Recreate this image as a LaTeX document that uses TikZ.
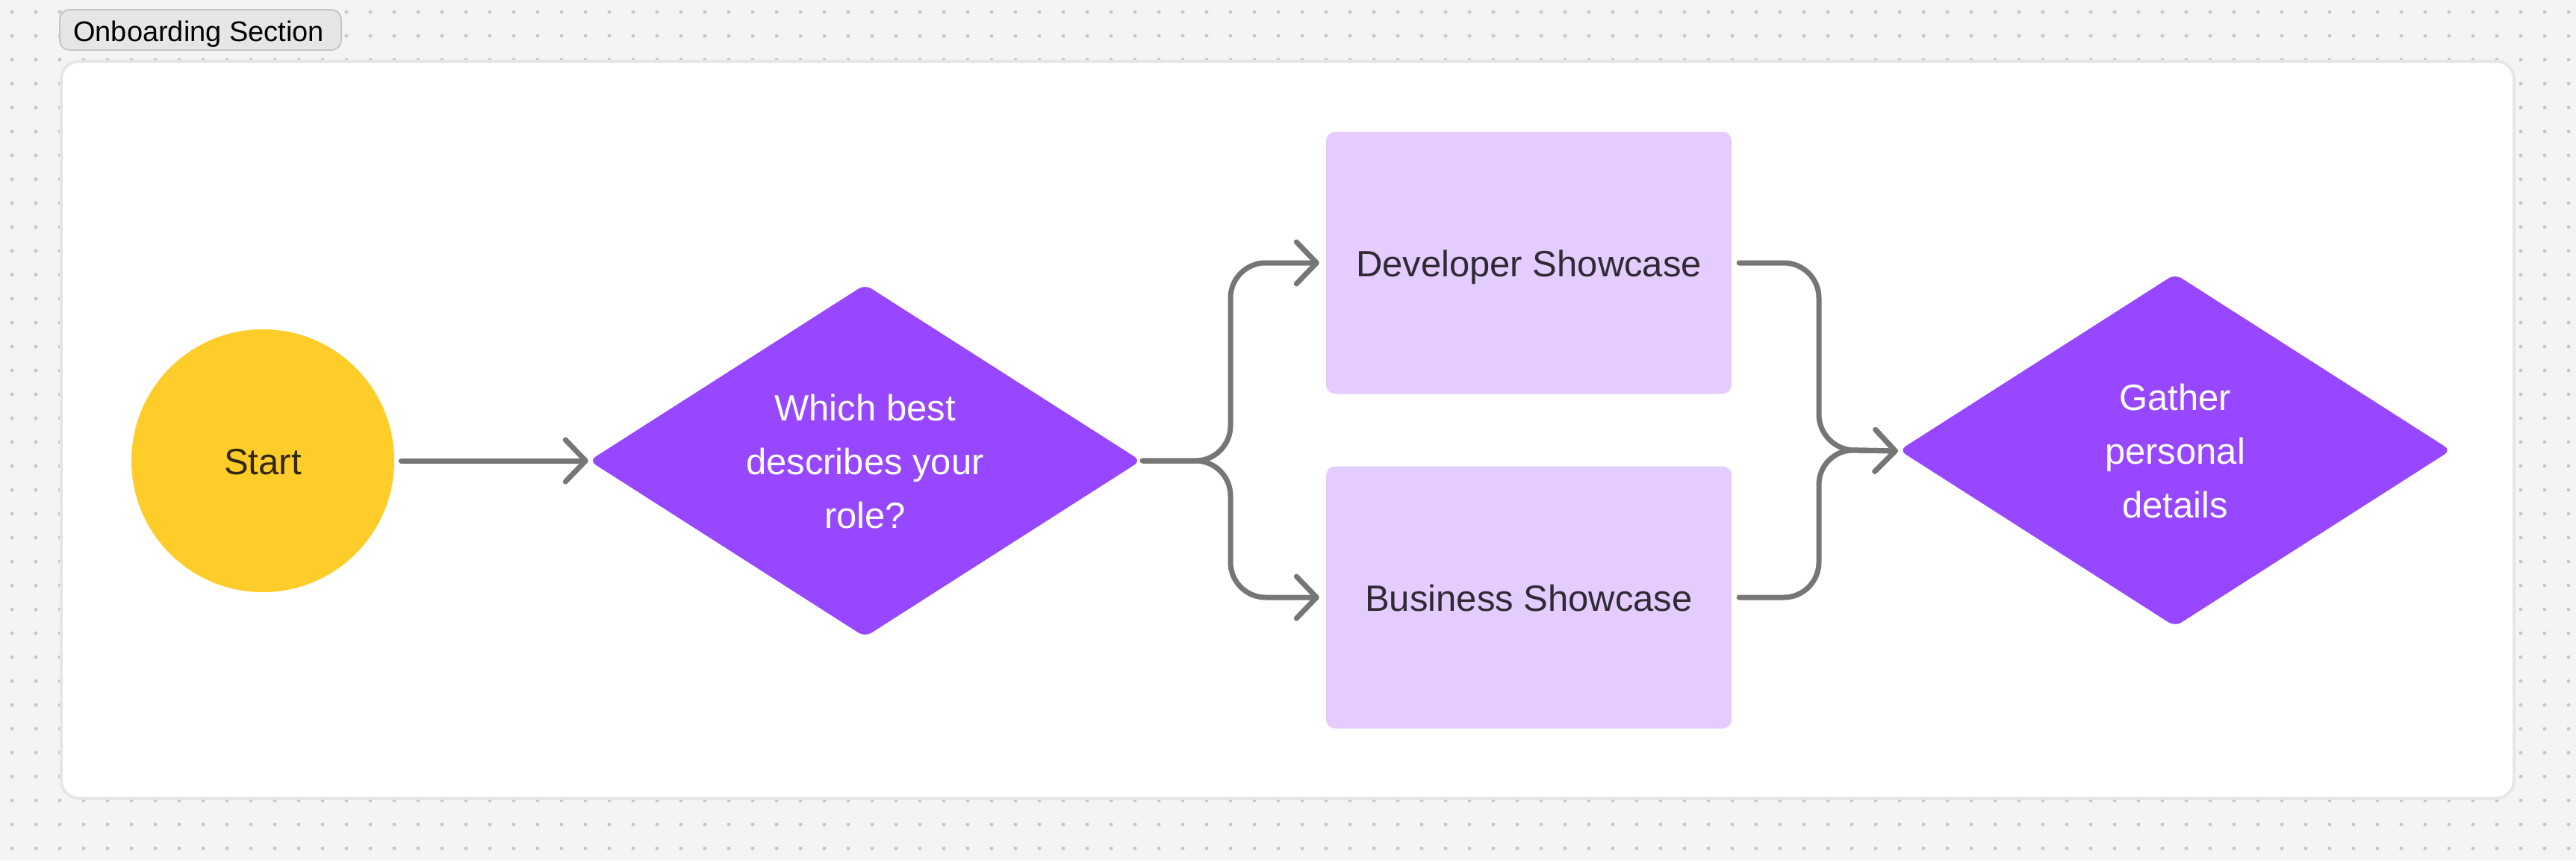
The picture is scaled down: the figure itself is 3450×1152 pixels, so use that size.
\documentclass[tikz,border=0pt]{standalone}
\usepackage{fontspec}
\setmainfont{Liberation Sans}
\usetikzlibrary{shapes.geometric,arrows.meta}
\definecolor{bgcol}{HTML}{F4F4F4}
\definecolor{dotcol}{HTML}{C8C8C8}
\definecolor{panelborder}{HTML}{E6E6E6}
\definecolor{lblfill}{HTML}{E6E6E6}
\definecolor{lblborder}{HTML}{C6C6C6}
\definecolor{startfill}{HTML}{FFCD29}
\definecolor{starttext}{HTML}{33290D}
\definecolor{decfill}{HTML}{9747FF}
\definecolor{boxfill}{HTML}{E4CCFF}
\definecolor{boxtext}{HTML}{2F2A33}
\definecolor{conncol}{HTML}{767676}
\tikzset{
  bigtext/.style={font=\fontsize{49}{72}\selectfont},
  startnode/.style={circle, fill=startfill, draw=none, minimum size=352pt, inner sep=0pt, text=starttext, bigtext, text height=36pt, text depth=0pt},
  decision/.style={diamond, fill=decfill, draw=none, minimum width=739pt, minimum height=472pt, inner sep=0pt, rounded corners=10pt},
  dectext/.style={text=white, align=center, inner sep=0pt, bigtext},
  showbox/.style={rectangle, fill=boxfill, draw=none, minimum width=543pt, minimum height=351pt, inner sep=0pt, rounded corners=12pt, text=boxtext, bigtext, text height=36pt, text depth=0pt},
  conn/.style={draw=conncol, line width=7pt, line cap=round, line join=round, rounded corners=47pt,
    -{Straight Barb[length=27pt, width=56pt, line cap=round, line join=round]}},
  sectionlabel/.style={rectangle, fill=lblfill, draw=lblborder, line width=2pt, rounded corners=13pt,
    minimum width=377pt, minimum height=54pt, inner sep=0pt}
}
\begin{document}
\begin{tikzpicture}[x=1pt,y=-1pt]
\useasboundingbox (0,0) rectangle (3450,1152);
\fill[bgcol] (0,0) rectangle (3450,1152);
% dot grid
\foreach \i in {0,...,107} {
  \foreach \j in {0,...,35} {
    \fill[dotcol] ({16+32*\i},{16+32*\j}) circle (2.5pt);
  }
}
% panel
\draw[draw=panelborder, line width=4pt, fill=white, rounded corners=24pt] (82,82) rectangle (3367,1069);
% section label
\node[sectionlabel] (lbl) at (268.5,40) {};
\node[anchor=base west, font=\fontsize{38}{42}\selectfont, inner sep=0pt, text=black] (lbltext) at (98,55) {Onboarding Section};
% nodes
\node[startnode] (start) at (352,617) {Start};
\node[decision] (d1) at (1158.5,617) {};
\node[dectext] (d1text) at (1158.5,618) {Which best\\describes your\\role?};
\node[showbox] (dev) at (2047.5,352) {Developer Showcase};
\node[showbox] (bus) at (2047.5,800) {Business Showcase};
\node[decision] (d2) at (2913,603) {};
\node[dectext] (d2text) at (2913,604) {Gather\\personal\\details};
% helper coordinates
\coordinate (splitL) at (1648,617);
\coordinate (splitR) at (2436,602);
% connectors
\draw[conn] ([xshift=9pt]start.east) -- ([xshift=-1pt]d1.west);
\draw[conn] ([xshift=2pt]d1.east) -- (splitL) |- ([xshift=-9pt]dev.west);
\draw[conn] ([xshift=2pt]d1.east) -- (splitL) |- ([xshift=-9pt]bus.west);
\draw[conn] ([xshift=10pt]dev.east) -| (splitR) -- ([xshift=-1.5pt,yshift=-1pt]d2.west);
\draw[conn] ([xshift=10pt]bus.east) -| (splitR) -- ([xshift=-1.5pt,yshift=-1pt]d2.west);
\end{tikzpicture}
\end{document}
